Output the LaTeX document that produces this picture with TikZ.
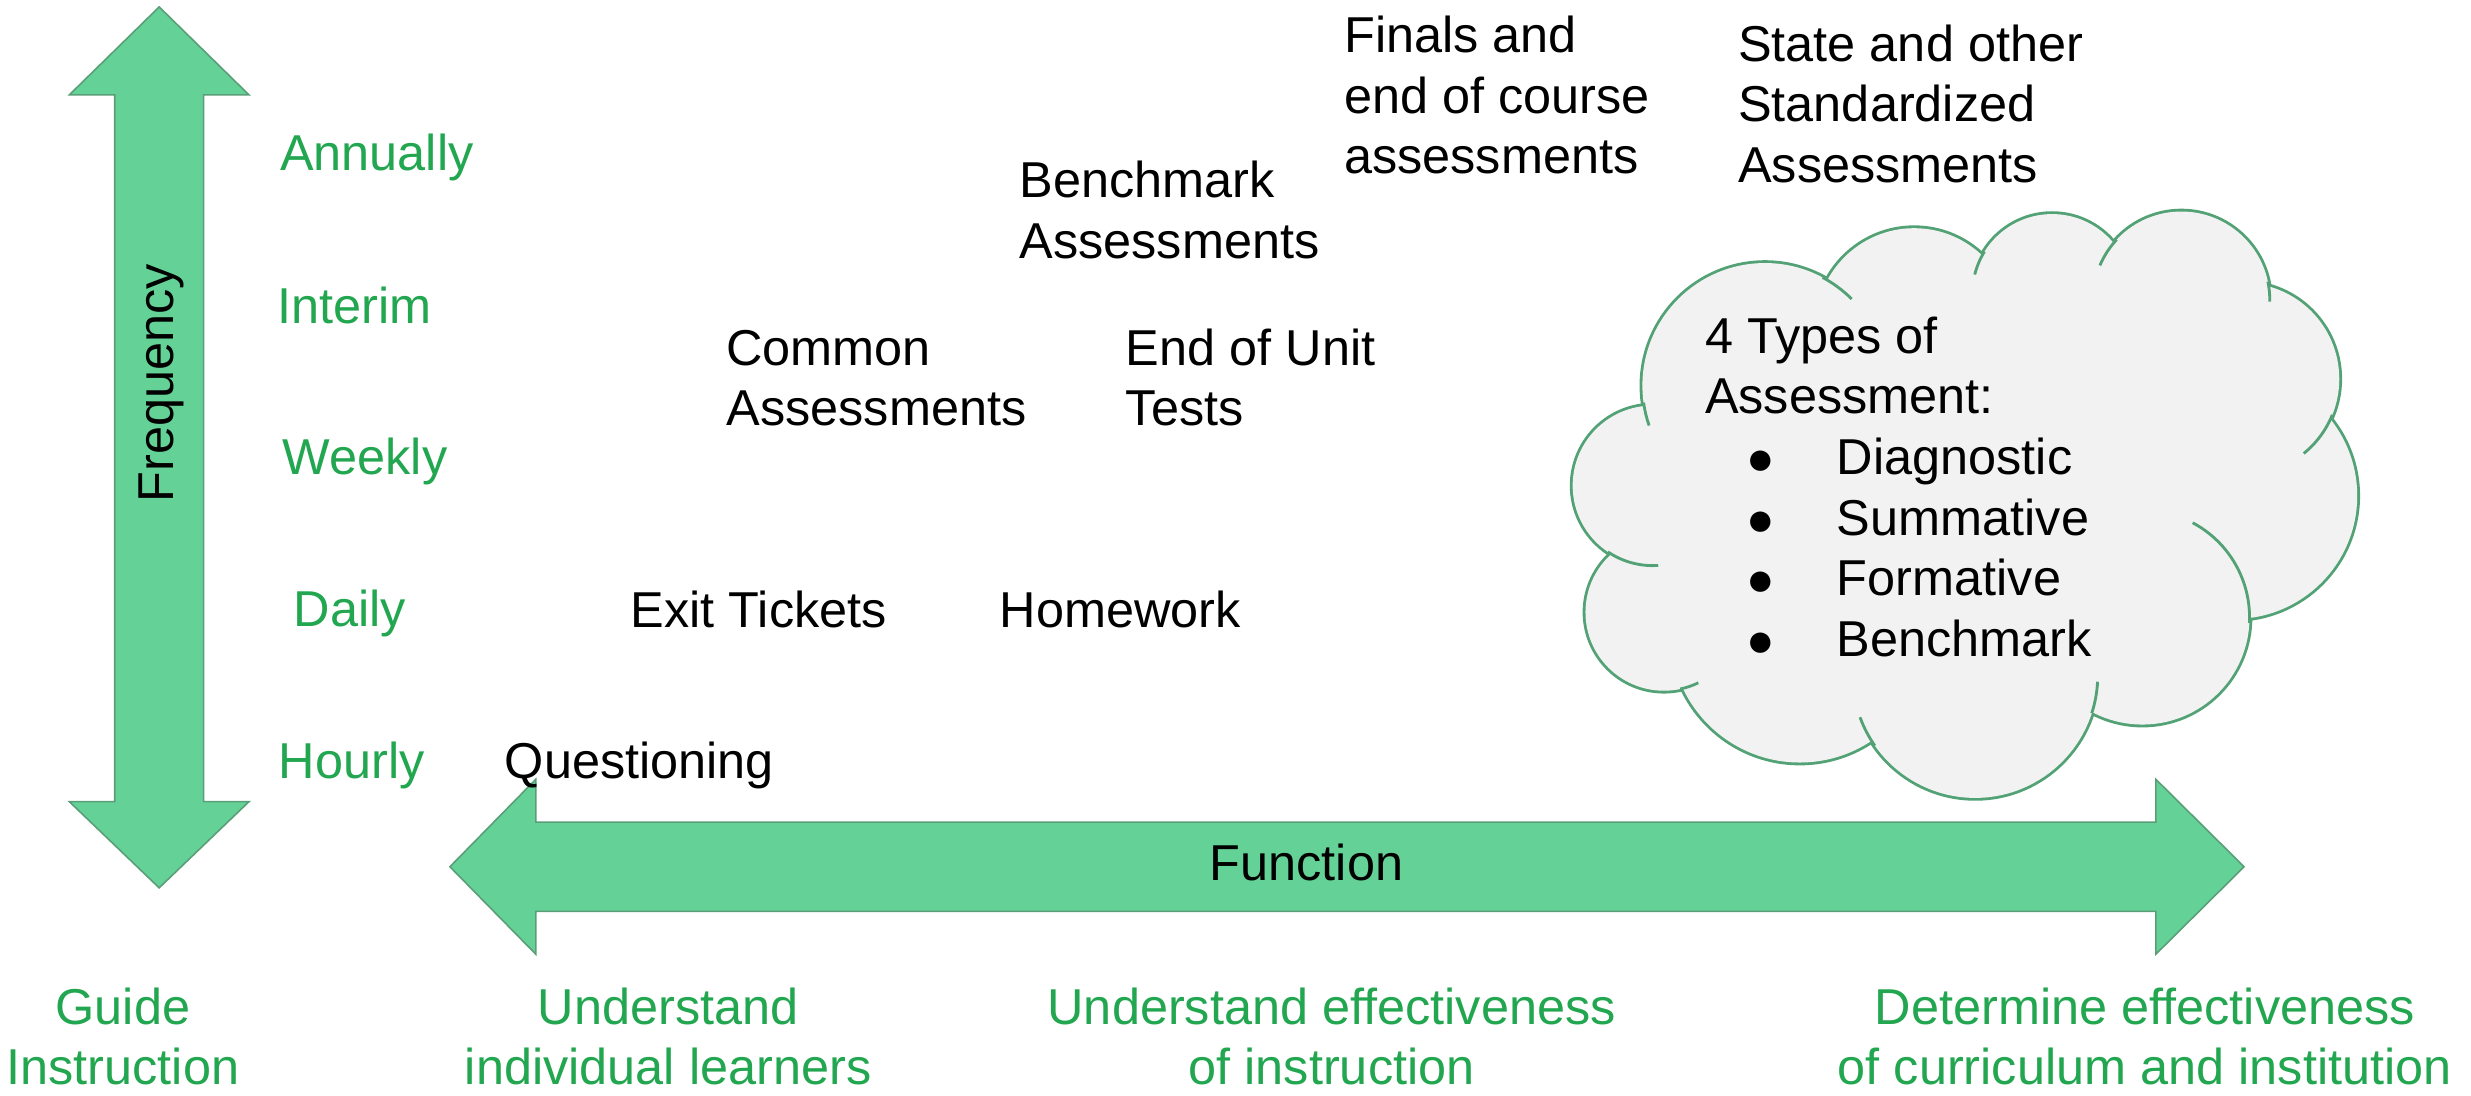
\documentclass[tikz,border=0pt]{standalone}
\usepackage{fontspec}
\setmainfont{Liberation Sans}
\definecolor{arrowfill}{HTML}{64D296}
\definecolor{arrowdraw}{HTML}{5A9E78}
\definecolor{lblgreen}{HTML}{22A650}
\definecolor{cloudfill}{HTML}{F2F2F2}
\definecolor{cloudline}{HTML}{52A276}
\newcommand\mlL[1]{\begin{tabular}[t]{@{}l@{}}#1\end{tabular}}
\newcommand\mlC[1]{\begin{tabular}[t]{@{}c@{}}#1\end{tabular}}
\newcommand\bul{\hspace*{35.6pt}\makebox[0pt]{\fontsize{30}{30}\selectfont ●}\hspace*{48pt}}
\begin{document}
\begin{tikzpicture}[x=1pt,y=-1pt,
  txt/.style={inner sep=0pt, outer sep=0pt, font=\fontsize{32}{38.5}\selectfont, anchor=base west},
  blk/.style={txt, text=black},
  grn/.style={txt, text=lblgreen},
  grnc/.style={txt, text=lblgreen, anchor=base},
  blockarrow/.style={fill=arrowfill, draw=arrowdraw, line width=1pt, line join=miter},
  puffline/.style={draw=cloudline, line width=3.6pt},
  cloudstub/.style={draw=cloudline, line width=1.8pt}]
\useasboundingbox (0,0) rectangle (1568,695);

% vertical arrow
\draw[blockarrow] (101,4.4) -- (158,60.2) -- (129.2,60.2) -- (129.2,508.7) -- (158,508.7)
  -- (101,563.4) -- (44,508.7) -- (72.8,508.7) -- (72.8,60.2) -- (44,60.2) -- cycle;
% horizontal arrow
\draw[blockarrow] (285.5,550) -- (340,494.5) -- (340,521.7) -- (1368,521.7) -- (1368,494.5)
  -- (1424,550) -- (1368,605.5) -- (1368,578.3) -- (340,578.3) -- (340,605.5) -- cycle;

% cloud: union of puffs
\begin{scope}[shift={(989.8,63.45)}, x=0.3254pt, y=-0.3254pt]
\foreach \cx/\cy/\cr in {400/557/239, 691/442/192, 960/378/155.5, 1212/390/172.5,
    1333/544/187, 1315/772/240, 1136/1009/209, 810/1122/239, 468/1040/252,
    203/999/153, 181/752/156}
  \path[puffline] (\cx,\cy) circle[radius=\cr];
\fill[cloudfill] (400,557) -- (691,442) -- (960,378) -- (1212,390) -- (1333,544) -- (1315,772)
  -- (1136,1009) -- (810,1122) -- (468,1040) -- (203,999) -- (181,752) -- cycle;
\foreach \cx/\cy/\cr in {400/557/239, 691/442/192, 960/378/155.5, 1212/390/172.5,
    1333/544/187, 1315/772/240, 1136/1009/209, 810/1122/239, 468/1040/252,
    203/999/153, 181/752/156}
  \fill[cloudfill] (\cx,\cy) circle[radius=\cr];
% inner arcs of the puffs
\path[cloudstub] (400,557) ++(172:239) arc[start angle=172, end angle=161, radius=239];
\path[cloudstub] (400,557) ++(-62:239) arc[start angle=-62, end angle=-45, radius=239];
\path[cloudstub] (960,378) ++(212:155.5) arc[start angle=212, end angle=194, radius=155.5];
\path[cloudstub] (1212,390) ++(223:172.5) arc[start angle=223, end angle=203, radius=172.5];
\path[cloudstub] (1212,390) ++(-12:172.5) arc[start angle=-12, end angle=1, radius=172.5];
\path[cloudstub] (1333,544) ++(22:187) arc[start angle=22, end angle=51, radius=187];
\path[cloudstub] (1136,1009) ++(3:209) arc[start angle=3, end angle=-62, radius=209];
\path[cloudstub] (810,1122) ++(18:239) arc[start angle=18, end angle=3, radius=239];
\path[cloudstub] (810,1122) ++(145:239) arc[start angle=145, end angle=160, radius=239];
\path[cloudstub] (203,999) ++(78:153) arc[start angle=78, end angle=64, radius=153];
\path[cloudstub] (181,752) ++(124:156) arc[start angle=124, end angle=86, radius=156];
\end{scope}

% axis texts
\node[txt, rotate=90, anchor=base] (freq) at (110,243) {Frequency};
\node[txt, anchor=base] (func) at (829,558.7) {Function};

% frequency labels
\node[grn] (annually) at (177.7,108.3) {Annually};
\node[grn] (interim) at (176.2,205.3) {Interim};
\node[grn] (weekly) at (179.5,300.8) {Weekly};
\node[grn] (daily) at (186.4,397.5) {Daily};
\node[grn] (hourly) at (176.9,494.1) {Hourly};

% assessments
\node[blk] (finals) at (853,33.3) {\mlL{Finals and\\end of course\\assessments}};
\node[blk] (state) at (1103,38.8) {\mlL{State and other\\Standardized\\Assessments}};
\node[blk] (bench) at (647,125.4) {\mlL{Benchmark\\Assessments}};
\node[blk] (common) at (461,231.7) {\mlL{Common\\Assessments}};
\node[blk] (unit) at (714.5,231.7) {\mlL{End of Unit\\Tests}};
\node[blk] (exit) at (400.3,398.5) {Exit Tickets};
\node[blk] (homework) at (634.5,398.5) {Homework};
\node[blk] (question) at (320.4,494.3) {Questioning};

% cloud text
\node[blk] (types) at (1082,224) {\mlL{4 Types of\\Assessment:\\\bul Diagnostic\\\bul Summative\\\bul Formative\\\bul Benchmark}};

% function labels
\node[grnc] (guide) at (78,649.9) {\mlC{Guide\\Instruction}};
\node[grnc] (learners) at (424,649.9) {\mlC{Understand\\individual learners}};
\node[grnc] (instr) at (845,649.9) {\mlC{Understand effectiveness\\of instruction}};
\node[grnc] (curric) at (1361,649.9) {\mlC{Determine effectiveness\\of curriculum and institution}};
\end{tikzpicture}
\end{document}
